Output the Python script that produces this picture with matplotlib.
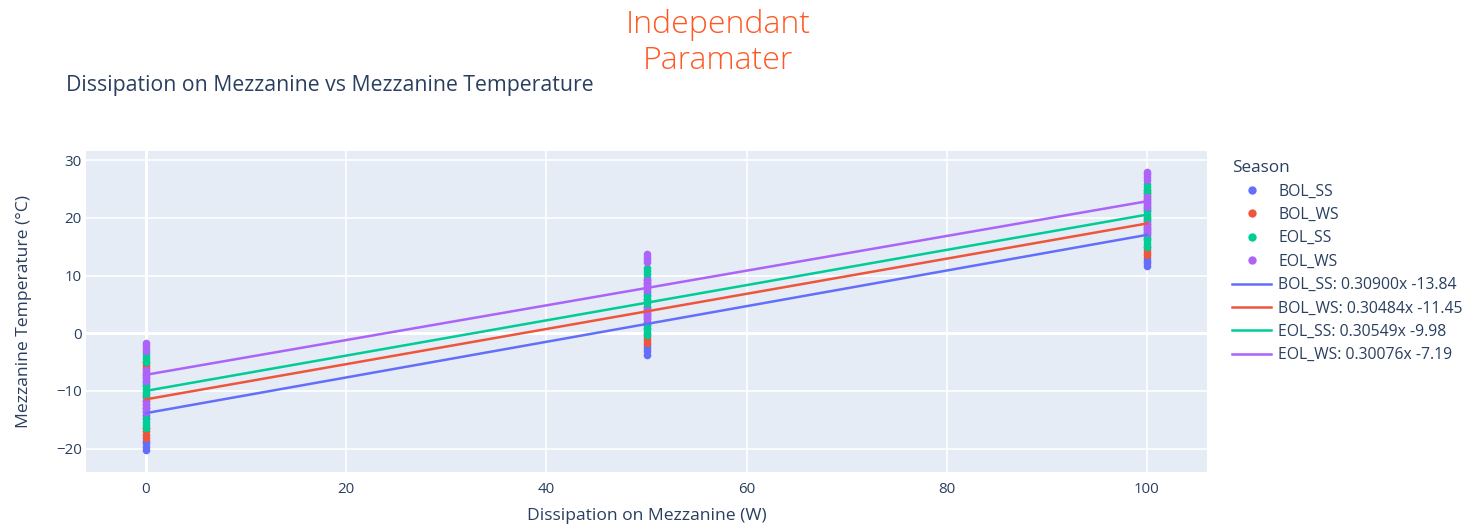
import numpy as np
import matplotlib
matplotlib.use("Agg")
import matplotlib.pyplot as plt
from matplotlib.lines import Line2D

plt.rcParams["font.family"] = ["Open Sans", "DejaVu Sans"]

# data
seasons = ["BOL_SS", "BOL_WS", "EOL_SS", "EOL_WS"]
dissipation = [0, 50, 100]

bol_ss_temps = [
    [-20.3, -19.7, -19.1, -18.6, -14.7, -14.1, -13.5, -12.9, -9.0, -8.4, -7.8, -7.3],
    [-3.7, -3.1, -2.5, -2.0, 0.8, 1.4, 2.0, 2.6, 5.4, 6.0, 6.6, 7.1],
    [11.6, 12.1, 12.6, 13.0, 16.4, 17.0, 17.5, 18.0, 21.3, 21.8, 22.3, 22.8],
]
bol_ws_temps = [
    [-18.2, -17.6, -17.0, -16.5, -12.3, -11.7, -11.1, -10.6, -6.7, -6.1, -5.5, -5.0],
    [-1.6, -1.1, -0.6, -0.1, 3.1, 3.6, 4.1, 4.6, 7.8, 8.3, 8.8, 9.3],
    [13.6, 14.0, 14.5, 15.0, 18.5, 19.0, 19.5, 20.0, 23.3, 23.8, 24.3, 24.8],
]
eol_ss_temps = [
    [-16.5, -15.9, -15.3, -14.8, -10.8, -10.2, -9.6, -9.1, -5.0, -4.5, -4.0, -3.5],
    [-0.3, 0.3, 0.9, 1.4, 4.6, 5.2, 5.8, 6.4, 9.6, 10.2, 10.8, 11.3],
    [14.9, 15.5, 16.0, 16.5, 19.7, 20.2, 20.7, 21.2, 24.3, 24.9, 25.4, 25.9],
]
eol_ws_temps = [
    [-13.6, -13.0, -12.4, -11.8, -8.2, -7.6, -7.0, -6.4, -3.1, -2.6, -2.1, -1.6],
    [2.4, 3.0, 3.6, 4.1, 7.5, 8.1, 8.7, 9.2, 12.3, 12.8, 13.3, 13.7],
    [17.3, 17.9, 18.5, 19.0, 21.9, 22.5, 23.1, 23.6, 26.6, 27.1, 27.6, 28.0],
]

slopes = [0.30900, 0.30484, 0.30549, 0.30076]
intercepts = [-13.84, -11.45, -9.98, -7.19]

colors = ["#636EFA", "#EF553B", "#00CC96", "#AB63FA"]
text_col = "#2a3f5f"

fig = plt.figure(figsize=(14.74, 5.26), dpi=100)
ax = fig.add_axes([86 / 1474, 1 - 472 / 526, (1207 - 86) / 1474, (472 - 151) / 526])
ax.set_facecolor("#E5ECF6")

all_temps = [bol_ss_temps, bol_ws_temps, eol_ss_temps, eol_ws_temps]
handles = []
for name, temps, c in zip(seasons, all_temps, colors):
    xs, ys = [], []
    for d, vals in zip(dissipation, temps):
        xs += [d] * len(vals)
        ys += vals
    ax.scatter(xs, ys, s=30, color=c, linewidths=0, zorder=3)
    handles.append(Line2D([], [], marker="o", linestyle="", color=c, markersize=5, label=name))

x_fit = np.array([min(dissipation), max(dissipation)])
for name, m, b, c in zip(seasons, slopes, intercepts, colors):
    ax.plot(x_fit, m * x_fit + b, color=c, lw=1.8, zorder=4)
    handles.append(Line2D([], [], color=c, lw=1.8, label="{}: {:.5f}x {:.2f}".format(name, m, b)))

ax.set_xlim(-6, 106)
ax.set_ylim(-24.05, 31.6)
ax.set_xticks([0, 20, 40, 60, 80, 100])
ax.set_yticks([-20, -10, 0, 10, 20, 30])
ax.grid(True, color="white", lw=1.2, zorder=0)
ax.set_axisbelow(True)
ax.axhline(0, color="white", lw=2.2, zorder=1)
ax.axvline(0, color="white", lw=2.2, zorder=1)
for sp in ax.spines.values():
    sp.set_visible(False)
ax.tick_params(length=0, labelsize=10.8, colors=text_col)
ax.tick_params(axis="x", pad=7)
ax.tick_params(axis="y", pad=3)

ax.set_xlabel("Dissipation on Mezzanine (W)", fontsize=12.6, color=text_col, labelpad=8)
ax.set_ylabel("Mezzanine Temperature (°C)", fontsize=12.6, color=text_col, labelpad=17)

fig.text(66 / 1474, 1 - 85 / 526, "Dissipation on Mezzanine vs Mezzanine Temperature",
         fontsize=15.3, color=text_col, va="center", ha="left")
fig.text(718 / 1474, 1 - 43 / 526, "Independant\nParamater", fontsize=23, color="#FF5722",
         ha="center", va="center", linespacing=1.15, fontweight="light")

leg = fig.legend(handles=handles, title="Season", loc="upper left",
                 bbox_to_anchor=(1218 / 1474, 1 - 146 / 526), frameon=False,
                 fontsize=11.3, title_fontsize=12.3, labelcolor=text_col,
                 handlelength=2.5, handletextpad=0.45, labelspacing=0.47,
                 alignment="left")
leg.get_title().set_color(text_col)

fig.savefig("out.png", dpi=100)
